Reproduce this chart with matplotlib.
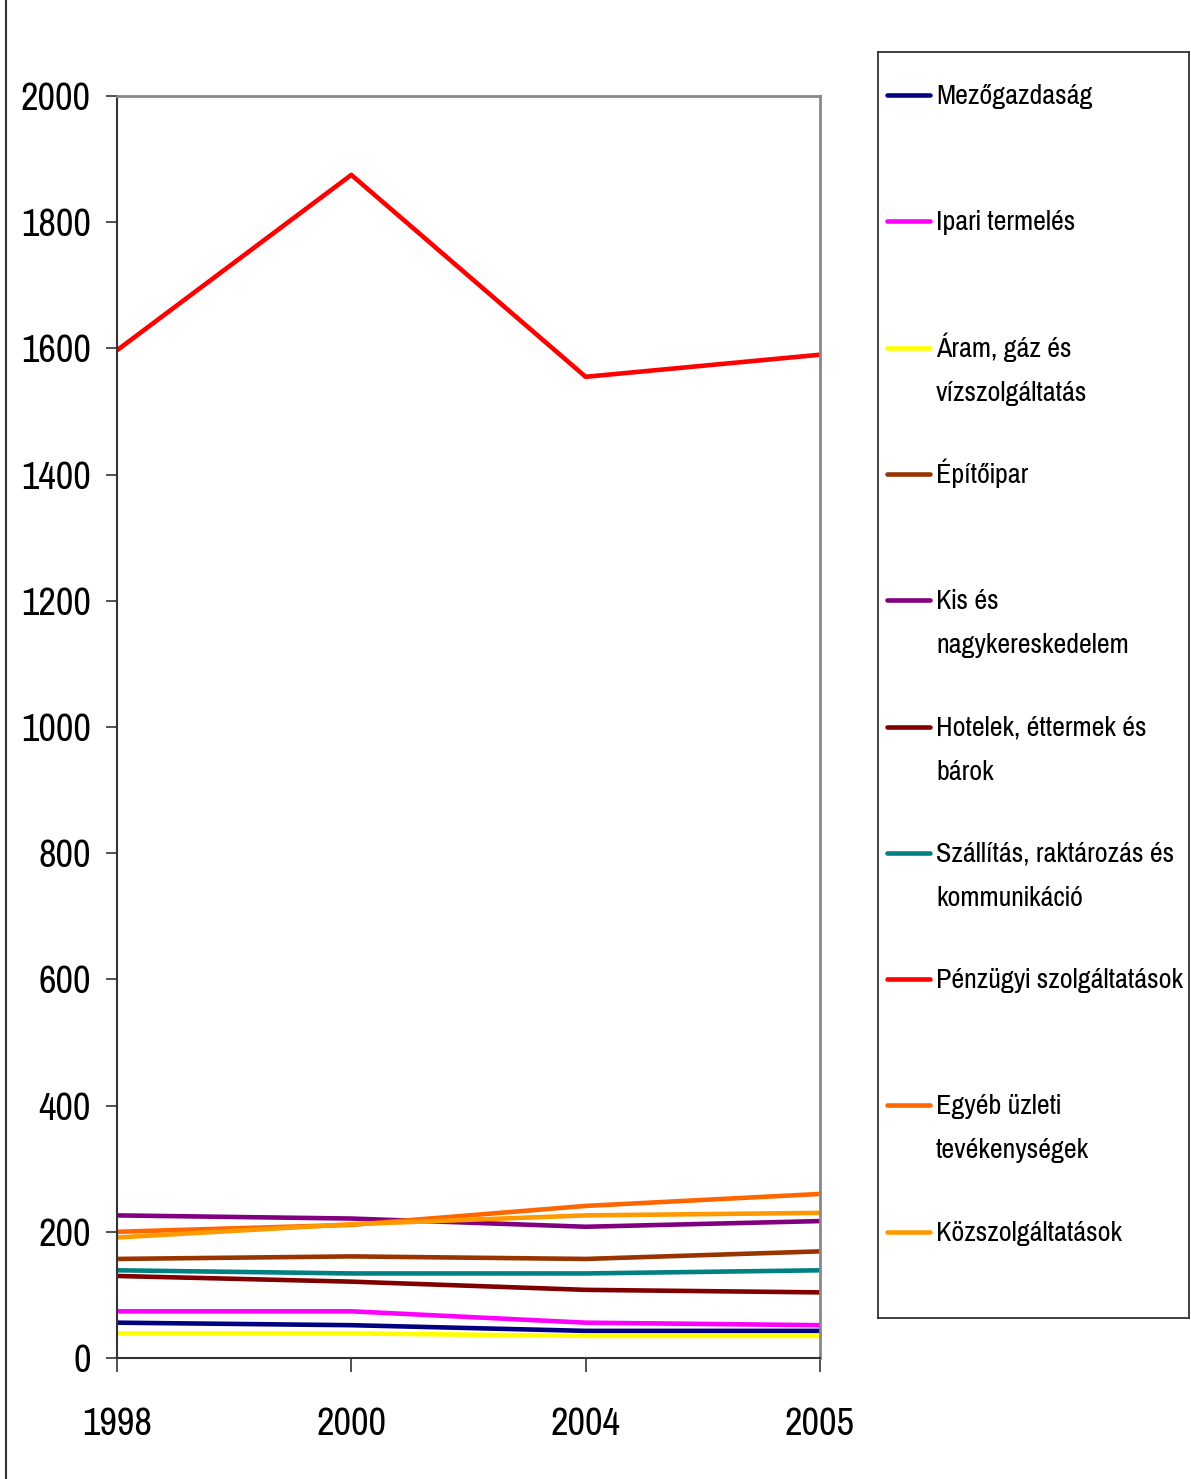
import matplotlib
matplotlib.use('Agg')
import matplotlib.pyplot as plt
from matplotlib.lines import Line2D

plt.rcParams['font.family'] = ['Pragati Narrow', 'DejaVu Sans']

years = ['1998', '2000', '2004', '2005']

sectors = [
    'Mezőgazdaság',
    'Ipari termelés',
    'Áram, gáz és\nvízszolgáltatás',
    'Építőipar',
    'Kis és\nnagykereskedelem',
    'Hotelek, éttermek és\nbárok',
    'Szállítás, raktározás és\nkommunikáció',
    'Pénzügyi szolgáltatások',
    'Egyéb üzleti\ntevékenységek',
    'Közszolgáltatások',
]

mezogazdasag = [56, 52, 43, 43]
ipari = [74, 74, 56, 52]
aram = [39, 39, 35, 35]
epitoipar = [157, 161, 157, 169]
kereskedelem = [226, 221, 208, 217]
hotelek = [130, 121, 108, 104]
szallitas = [139, 134, 134, 139]
penzugyi = [1597, 1875, 1555, 1590]
egyeb = [200, 211, 241, 260]
kozszolg = [191, 212, 226, 230]

series = [mezogazdasag, ipari, aram, epitoipar, kereskedelem,
          hotelek, szallitas, penzugyi, egyeb, kozszolg]
colors = ['#000080', '#FF00FF', '#FFFF00', '#993300', '#800080',
          '#800000', '#008080', '#FF0000', '#FF6600', '#FF9900']

W, H = 1191, 1479
fig = plt.figure(figsize=(W / 100, H / 100), dpi=100)
ax = fig.add_axes([117 / W, 1 - 1358 / H, (820 - 117) / W, (1358 - 96) / H])

x = list(range(len(years)))
# drawing order: the two orange lines sit on top, as in the original
order = [3, 4, 5, 6, 7, 0, 1, 2, 8, 9]
for i in order:
    ax.plot(x, series[i], color=colors[i], lw=3.3, solid_capstyle='butt')

ax.set_xlim(0, 3)
ax.set_ylim(0, 2000)
ax.set_xticks(x)
ax.set_xticklabels(years)
ax.set_yticks(range(0, 2001, 200))
ax.tick_params(axis='y', direction='out', length=8, width=1.2, labelsize=30, pad=11,
               colors='#333333', labelcolor='black')
ax.tick_params(axis='x', direction='out', length=10, width=1.2, labelsize=30, pad=25,
               colors='#333333', labelcolor='black')
for side in ['top', 'right']:
    ax.spines[side].set_color('#888888')
    ax.spines[side].set_linewidth(2)
for side in ['left', 'bottom']:
    ax.spines[side].set_color('#333333')
    ax.spines[side].set_linewidth(1.5)

# legend box, laid out in pixel units
lx0, ly0, lx1, ly1 = 878, 52, 1189, 1318
lax = fig.add_axes([lx0 / W, 1 - ly1 / H, (lx1 - lx0) / W, (ly1 - ly0) / H])
lax.set_xlim(lx0, lx1)
lax.set_ylim(ly1, ly0)
lax.set_xticks([])
lax.set_yticks([])
for sp in lax.spines.values():
    sp.set_color('#333333')
    sp.set_linewidth(1.3)

for k, (name, c) in enumerate(zip(sectors, colors)):
    yy = 95 + k * 126.3
    lax.add_line(Line2D([887, 930], [yy, yy], color=c, lw=3.3, solid_capstyle='round'))
    for j, part in enumerate(name.split('\n')):
        lax.text(936, yy + 9 + 44 * j, part, fontsize=22, va='baseline', ha='left',
                 clip_on=False)

# thin frame line at the left edge of the picture
fig.add_artist(Line2D([6 / W, 6 / W], [0, 1], color='#333333', lw=1.5))

fig.savefig('out.png', dpi=100)
